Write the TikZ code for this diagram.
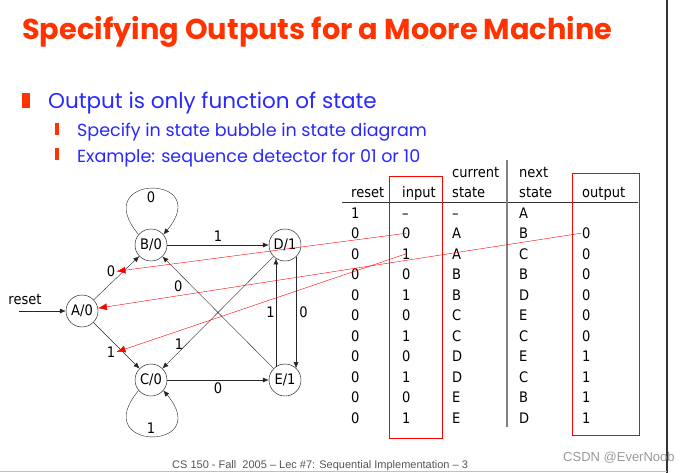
\documentclass[tikz,border=0pt]{standalone}
\usepackage{fontspec}
\usetikzlibrary{arrows.meta}

\setmainfont{DejaVu Sans}[FakeStretch=0.9]
\newfontfamily\comicfont{Poppins}
\newfontfamily\footfont{Liberation Sans}
\definecolor{titlered}{RGB}{255,51,0}
\definecolor{bulletblue}{RGB}{40,40,255}
\definecolor{footgray}{RGB}{85,85,85}

\begin{document}
\begin{tikzpicture}[x=1pt,y=1pt,
    state/.style={draw, circle, minimum size=32pt, inner sep=0pt, font=\fontsize{14.5}{17}\selectfont},
    lbl/.style={inner sep=1pt, font=\fontsize{14.5}{17}\selectfont},
    arr/.style={draw=black!85, -{Latex[length=6pt,width=5pt]}},
    redarr/.style={draw=red, -{Latex[length=9pt,width=7pt]}},
    cell/.style={anchor=base west, inner sep=1pt, font=\fontsize{14.5}{17}\selectfont},
    redbox/.style={draw=red, line width=0.8pt}]

  \useasboundingbox (0,0) rectangle (687,-473);
  \draw[black!80, line width=1.5pt] (667,0) -- (667,-473);
  \draw[black!25] (0,-471.5) -- (667,-471.5);

  % title and bullets
  \node[anchor=base west, inner sep=0pt, text=titlered, font=\comicfont\bfseries\fontsize{28.8}{32}\selectfont]
    (title) at (22,-40) {Specifying Outputs for a Moore Machine};
  \fill[titlered] (22,-93) rectangle (30,-108);
  \fill[titlered] (55,-123) rectangle (59,-135);
  \fill[titlered] (55,-148) rectangle (59,-160);
  \node[anchor=base west, inner sep=0pt, text=bulletblue, font=\comicfont\fontsize{21.5}{25}\selectfont]
    (b1) at (48,-109) {Output is only function of state};
  \node[anchor=base west, inner sep=0pt, text=bulletblue, font=\comicfont\fontsize{17.5}{21}\selectfont]
    (b2) at (77,-137) {Specify in state bubble in state diagram};
  \node[anchor=base west, inner sep=0pt, text=bulletblue, font=\comicfont\fontsize{17.5}{21}\selectfont]
    (b3) at (77,-162) {Example: sequence detector for 01 or 10};

  % state diagram
  \node[state] (A) at (82,-311) {A/0};
  \node[state] (B) at (151,-245) {B/0};
  \node[state] (C) at (151,-380) {C/0};
  \node[state] (D) at (285,-245) {D/1};
  \node[state] (E) at (285,-380) {E/1};
  \node[lbl, anchor=south] (rst) at (25,-306) {reset};
  \coordinate (rstin) at (19,-311);

  \draw[arr] (rstin) -- (A);
  \draw[arr] (A) -- node[lbl, above left=0pt] (lAB) {0} (B);
  \draw[arr] (A) -- node[lbl, below left=0pt] (lAC) {1} (C);
  \draw[arr] (B) -- node[lbl, above=2pt] {1} (D);
  \draw[arr] (C) -- node[lbl, below=2pt] {0} (E);
  \draw[arr] (D.-47) -- node[lbl, right=2pt] {0} (E.47);
  \draw[arr] (E.124) -- node[lbl, left] {1} (D.-124);
  \draw[arr] (D) -- node[lbl, pos=.85, above=1pt] {1} (C);
  \draw[arr] (E) -- node[lbl, pos=.8, below left=1pt] {0} (B);
  \draw[arr] (B.140) to[out=130, in=50, distance=80pt] node[lbl, below=2pt] {0} (B.40);
  \draw[arr] (C.-140) to[out=-130, in=-50, distance=80pt] node[lbl, above=2pt] {1} (C.-40);

  % table
  \node[cell] (hreset) at (350,-197) {reset};
  \node[cell] (hin) at (401,-197) {input};
  \node[cell] (hcur1) at (451,-177) {current};
  \node[cell] (hcur2) at (451,-197) {state};
  \node[cell] (hnext1) at (518,-177) {next};
  \node[cell] (hnext2) at (518,-197) {state};
  \node[cell] (hout) at (581,-197) {output};
  \draw[black!80] (342,-202) -- (638,-202);
  \draw[black!50, line width=1.3pt] (507,-160) -- (507,-427);
  \foreach \rs/\ip/\cs/\ns/\op [count=\r] in {1/–/–/A/{}, 0/0/A/B/0, 0/1/A/C/0, 0/0/B/B/0,
      0/1/B/D/0, 0/0/C/E/0, 0/1/C/C/0, 0/0/D/E/1, 0/1/D/C/1, 0/0/E/B/1, 0/1/E/D/1} {
    \node[cell] (rs\r) at (350,-218-20.5*\r+20.5) {\rs};
    \node[cell] (in\r) at (401,-218-20.5*\r+20.5) {\ip};
    \node[cell] (cs\r) at (451,-218-20.5*\r+20.5) {\cs};
    \node[cell] (ns\r) at (518,-218-20.5*\r+20.5) {\ns};
    \node[cell] (out\r) at (581,-218-20.5*\r+20.5) {\op};
  }
  \draw[redbox] (389,-176) rectangle (442,-438);
  \draw[redbox] (572,-173) rectangle (639,-435);

  % pointers from the table
  \draw[redarr] (in2.center) -- (lAB.east);
  \draw[redarr] (out2.west) -- (A.10);
  \draw[redarr] (in3.center) -- (lAC.east);

  % footer
  \node[anchor=base west, inner sep=0pt, text=footgray, font=\footfont\fontsize{11}{13}\selectfont]
    (foot) at (172,-468) {CS 150 - Fall\ \ 2005 – Lec \#7: Sequential Implementation – 3};
  \node[anchor=west, inner sep=0pt, text=black!40, font=\footfont\fontsize{13}{15}\selectfont]
    (mark) at (563,-458) {CSDN @EverNoob};
\end{tikzpicture}
\end{document}
